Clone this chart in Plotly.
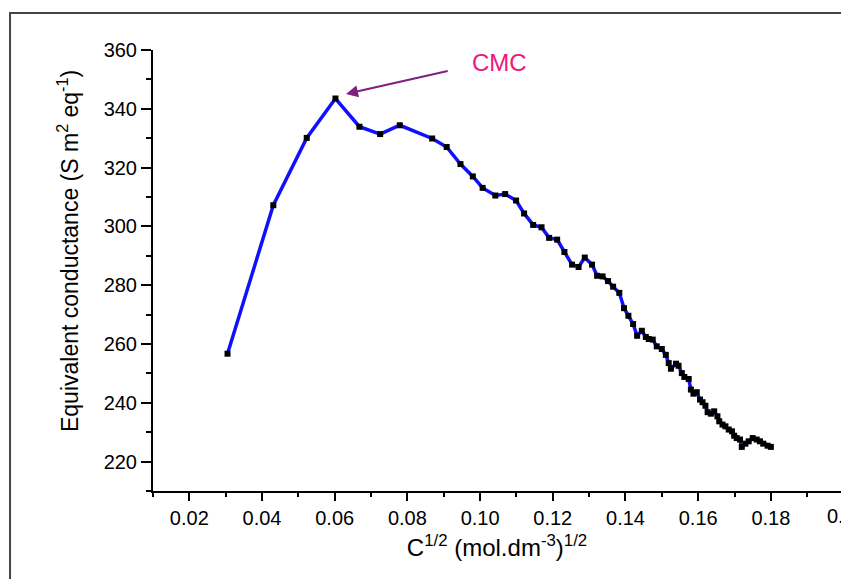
import plotly.graph_objects as go

# C^(1/2) values (mol.dm^-3)^(1/2)
conc_sqrt = [0.0305, 0.0431, 0.0523, 0.0602, 0.0668, 0.0725, 0.0779, 0.0868, 0.0908, 0.0946,
             0.0980, 0.1007, 0.1042, 0.1069, 0.1099, 0.1121, 0.1146, 0.1169, 0.1190, 0.1212,
             0.1232, 0.1253, 0.1271, 0.1288, 0.1308, 0.1322, 0.1337, 0.1352, 0.1366, 0.1383,
             0.1396, 0.1408, 0.1421, 0.1432, 0.1445, 0.1456, 0.1464, 0.1475, 0.1486, 0.1500,
             0.1511, 0.1519, 0.1525, 0.1539, 0.1546, 0.1555, 0.1562, 0.1574, 0.1580, 0.1587,
             0.1596, 0.1605, 0.1612, 0.1620, 0.1626, 0.1635, 0.1644, 0.1653, 0.1658, 0.1667,
             0.1675, 0.1684, 0.1693, 0.1699, 0.1706, 0.1715, 0.1720, 0.1730, 0.1739, 0.1750,
             0.1761, 0.1770, 0.1779, 0.1791, 0.1800]
# Equivalent conductance (S m2 eq-1)
eq_cond = [256.7, 307.2, 330.1, 343.5, 333.9, 331.4, 334.4, 329.9, 327.0, 321.2,
           317.0, 313.1, 310.5, 311.0, 308.8, 304.4, 300.5, 299.7, 296.1, 295.5,
           291.3, 287.0, 286.2, 289.4, 287.0, 283.2, 283.0, 281.4, 279.5, 277.4,
           272.2, 269.6, 266.8, 262.8, 264.5, 262.4, 261.7, 261.5, 259.2, 258.3,
           256.3, 253.5, 251.6, 253.3, 252.6, 250.1, 248.8, 248.1, 244.5, 243.1,
           243.6, 241.1, 240.2, 239.0, 236.8, 236.3, 237.1, 235.4, 233.7, 232.6,
           232.0, 230.9, 230.3, 228.8, 228.0, 227.5, 225.0, 226.1, 226.9, 228.0,
           227.5, 226.9, 226.1, 225.4, 225.0]

x_tick_vals = [0.02, 0.04, 0.06, 0.08, 0.10, 0.12, 0.14, 0.16, 0.18]
x_tick_text = ["0.02", "0.04", "0.06", "0.08", "0.10", "0.12", "0.14", "0.16", "0.18"]
y_tick_vals = [220, 240, 260, 280, 300, 320, 340, 360]

FONT = "Liberation Sans, Arial, sans-serif"

fig = go.Figure()
fig.add_trace(go.Scatter(
    x=conc_sqrt, y=eq_cond, mode="lines+markers",
    line=dict(color="#1010ff", width=3.5),
    marker=dict(symbol="square", size=6, color="black"),
    showlegend=False,
))

fig.update_layout(
    width=841, height=579,
    margin=dict(l=153, r=0, t=50, b=88),
    paper_bgcolor="white", plot_bgcolor="white",
    font=dict(family=FONT, color="black"),
    xaxis=dict(
        range=[0.01, 0.1993], tickvals=x_tick_vals, ticktext=x_tick_text,
        ticks="outside", ticklen=8, tickwidth=2, tickcolor="black",
        showline=True, linewidth=2, linecolor="black",
        showgrid=False, zeroline=False,
        tickfont=dict(size=20, family=FONT),
        minor=dict(dtick=0.01, tick0=0.01, ticks="outside", ticklen=4, tickwidth=2, tickcolor="black"),
        title=dict(text="C<sup>1/2</sup> (mol.dm<sup>-3</sup>)<sup>1/2</sup>",
                   font=dict(size=24, family=FONT), standoff=11),
    ),
    yaxis=dict(
        range=[210, 360], tickvals=y_tick_vals,
        ticks="outside", ticklen=10, tickwidth=2, tickcolor="black",
        showline=True, linewidth=2, linecolor="black",
        showgrid=False, zeroline=False,
        tickfont=dict(size=20, family=FONT),
        minor=dict(dtick=10, tick0=210, ticks="outside", ticklen=5, tickwidth=2, tickcolor="black"),
    ),
)

# y-axis title, placed as in the reference (slightly above plot centre)
fig.add_annotation(xref="paper", yref="paper", x=-0.1235, y=0.5442,
                   xanchor="center", yanchor="middle", textangle=-90, showarrow=False,
                   text="Equivalent conductance (S m<sup>2</sup> eq<sup>-1</sup>)",
                   font=dict(size=23, family=FONT))

# outer frame (cropped figure border)
fig.add_shape(type="rect", xref="paper", yref="paper",
              x0=-0.2078, x1=1.2, y0=-0.4, y1=1.0839,
              line=dict(color="#444444", width=2), fillcolor="rgba(0,0,0,0)", layer="below")

# cropped 0.20 tick label
fig.add_annotation(xref="paper", yref="paper", x=1.0073, y=0, yanchor="top", xanchor="center",
                   yshift=-12, text="0.20", showarrow=False, font=dict(size=20, family=FONT))

# CMC label and arrow
fig.add_annotation(x=0.1053, y=355.9, text="CMC", showarrow=False,
                   font=dict(size=24, color="#f0187a", family=FONT))
fig.add_annotation(x=0.0631, y=345.05, ax=0.0915, ay=352.97, axref="x", ayref="y",
                   text="", showarrow=True, arrowhead=2, arrowsize=1.2, arrowwidth=2,
                   arrowcolor="#7f1f7f")

fig.write_html("out.html")
